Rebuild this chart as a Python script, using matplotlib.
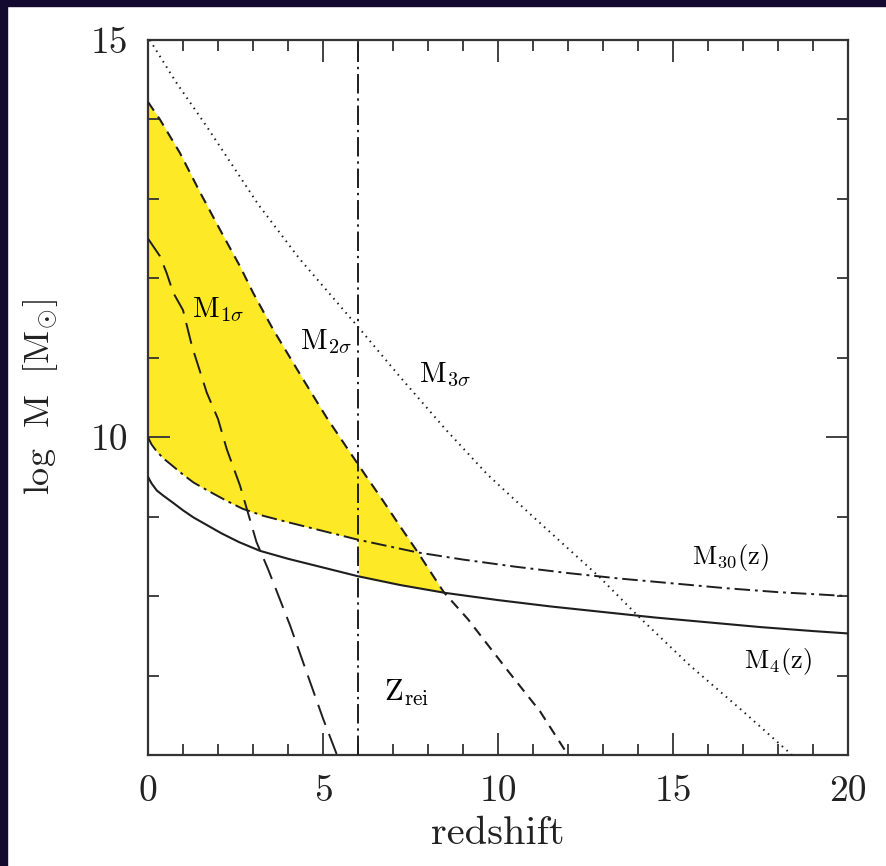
import numpy as np
import matplotlib
matplotlib.use("Agg")
import matplotlib.pyplot as plt
from matplotlib.patches import Rectangle
from matplotlib.ticker import MultipleLocator

plt.rcParams["font.family"] = "cmr10"
plt.rcParams["mathtext.fontset"] = "cm"
plt.rcParams["axes.unicode_minus"] = False

# curves (redshift, log M)
z_m4 = [0, 0.1, 0.25, 0.45, 0.7, 1.0, 1.3, 1.7, 2.1, 2.6, 3.2, 4.0, 5.0, 6.0, 7.2, 8.5, 10, 11.5, 13, 14.5, 16, 17.5, 19, 20]
m4 = [9.50, 9.42, 9.33, 9.26, 9.18, 9.08, 8.99, 8.89, 8.79, 8.68, 8.57, 8.47, 8.36, 8.25, 8.14, 8.04, 7.95, 7.87, 7.80, 7.73, 7.67, 7.61, 7.56, 7.53]

z_m30 = [0, 0.1, 0.25, 0.45, 0.7, 1.0, 1.3, 1.7, 2.2, 2.7, 3.3, 4.0, 5.0, 6.0, 7.7, 9, 10.5, 12, 13.5, 15, 16.5, 18, 20]
m30 = [10.0, 9.91, 9.82, 9.73, 9.64, 9.53, 9.43, 9.33, 9.21, 9.10, 9.01, 8.93, 8.82, 8.71, 8.55, 8.46, 8.37, 8.29, 8.22, 8.16, 8.10, 8.05, 8.0]

z_1s = [0, 0.34, 0.53, 0.72, 1.0, 1.26, 1.68, 2.0, 2.25, 2.63, 3.1, 3.43, 4.06, 5.0, 5.4]
m_1s = [12.5, 12.28, 12.07, 11.82, 11.6, 11.14, 10.56, 10.23, 9.85, 9.39, 8.68, 8.34, 7.63, 6.46, 6.0]

z_2s = [0, 0.34, 0.91, 1.49, 2.06, 2.63, 3.0, 3.57, 4.43, 5.1, 5.77, 6.2, 6.7, 7.2, 7.68, 8.45, 9.14, 10.3, 11.2, 12.0]
m_2s = [14.22, 14.0, 13.58, 13.08, 12.61, 12.15, 11.82, 11.36, 10.73, 10.25, 9.81, 9.53, 9.21, 8.88, 8.57, 8.05, 7.71, 7.05, 6.55, 6.0]

z_3s = [0.05, 0.8, 1.68, 2.4, 3.15, 4.34, 5.2, 6.0, 7.2, 8.5, 9.7, 11, 12.9, 14, 15.5, 17, 18.4]
m_3s = [15.0, 14.47, 13.91, 13.43, 12.93, 12.24, 11.80, 11.39, 10.76, 10.1, 9.53, 9.0, 8.24, 7.75, 7.12, 6.55, 6.0]

z_rei = 6.0
z_cross = 8.45   # where M_2sigma meets M_4(z)

fig = plt.figure(figsize=(8.86, 8.66), dpi=100)
fig.patch.set_facecolor("white")
navy = "#140a30"
fig.patches.append(Rectangle((0, 0), 7 / 886, 1, transform=fig.transFigure, color=navy, zorder=-5))
fig.patches.append(Rectangle((0, 1 - 6 / 866), 1, 6 / 866, transform=fig.transFigure, color=navy, zorder=-5))

ax = fig.add_axes([148 / 886, 111 / 866, 700 / 886, 715 / 866])

# yellow region: below M_2sigma, above M_30 (z<z_rei) or M_4 (z>z_rei)
zz = np.linspace(0, z_cross, 400)
upper = np.interp(zz, z_2s, m_2s)
lower = np.where(zz < z_rei, np.interp(zz, z_m30, m30), np.interp(zz, z_m4, m4))
ax.fill_between(zz, lower, upper, color="#fde926", lw=0, zorder=1)

lc = "#1e1e1e"
ax.plot(z_m4, m4, color=lc, lw=1.5, zorder=3)
ax.plot(z_m30, m30, color=lc, lw=1.4, dashes=(8, 2.5, 1.5, 2.5), zorder=3)
ax.plot(z_1s, m_1s, color=lc, lw=1.4, dashes=(11, 5), zorder=3)
ax.plot(z_2s, m_2s, color=lc, lw=1.5, dashes=(5, 3.5), zorder=3)
ax.plot(z_3s, m_3s, color=lc, lw=1.4, dashes=(0.8, 2.4), zorder=3)
ax.axvline(z_rei, color=lc, lw=1.4, dashes=(10, 2.5, 1.2, 2.5), zorder=3)

ax.set_xlim(0, 20)
ax.set_ylim(6, 15)
ax.xaxis.set_major_locator(MultipleLocator(5))
ax.xaxis.set_minor_locator(MultipleLocator(1))
ax.set_yticks([10, 15])
ax.yaxis.set_minor_locator(MultipleLocator(1))
ax.tick_params(which="both", direction="in", top=True, right=True, color="#333333", width=1.3)
ax.tick_params(which="major", length=16, labelsize=27, pad=14, labelcolor="#222222")
ax.tick_params(which="minor", length=8)
for sp in ax.spines.values():
    sp.set_color("#333333")
    sp.set_linewidth(1.6)

ax.set_xlabel("redshift", fontsize=29, labelpad=6, color="#222222")
ax.set_ylabel(r"$\mathrm{log\ \ M\ \ [M_{\odot}]}$", fontsize=26, labelpad=22, color="#222222")

fs = 21
ax.text(1.26, 11.51, r"$\mathrm{M}_{1\sigma}$", fontsize=fs, va="baseline")
ax.text(4.34, 11.11, r"$\mathrm{M}_{2\sigma}$", fontsize=fs, va="baseline")
ax.text(7.74, 10.69, r"$\mathrm{M}_{3\sigma}$", fontsize=fs, va="baseline")
ax.text(15.54, 8.40, r"$\mathrm{M}_{30}\mathrm{(z)}$", fontsize=19, va="baseline")
ax.text(17.03, 7.09, r"$\mathrm{M}_{4}\mathrm{(z)}$", fontsize=19, va="baseline")
ax.text(6.74, 6.68, r"$\mathrm{Z}_{\mathrm{rei}}$", fontsize=22, va="baseline")

fig.savefig("out.png", dpi=100)
